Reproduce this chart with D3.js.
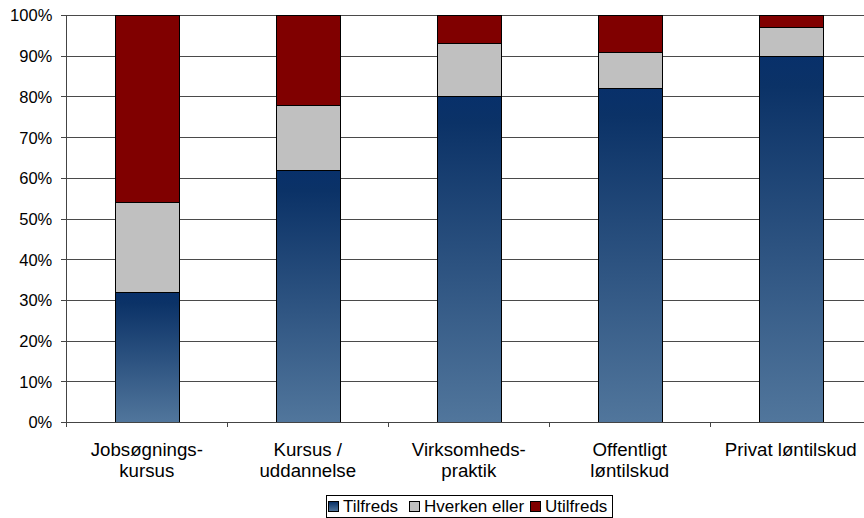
<!DOCTYPE html>
<html><head><meta charset="utf-8">
<script src="https://cdn.jsdelivr.net/npm/d3@7"></script>
<style>
html,body{margin:0;padding:0;background:#fff;}
svg{display:block;font-family:"Liberation Sans",Arial,sans-serif;}
</style></head>
<body><svg id="c" width="864" height="518"></svg>
<script>
const categories = ["Jobsøgnings-kursus","Kursus / uddannelse","Virksomheds-praktik","Offentligt løntilskud","Privat løntilskud"];
const categoryLines = [["Jobsøgnings-","kursus"],["Kursus /","uddannelse"],["Virksomheds-","praktik"],["Offentligt","løntilskud"],["Privat løntilskud"]];
const seriesNames = ["Tilfreds","Hverken eller","Utilfreds"];
const tilfreds = [32,62,80,82,90];
const hverken = [22,16,13,9,7];
const utilfreds = [46,22,7,9,3];
const yTicks = [0,10,20,30,40,50,60,70,80,90,100];

const svg = d3.select("#c");
const L=66.3, T=15, B=422, R=871.3;
const defs = svg.append("defs");
const grad = defs.append("linearGradient").attr("id","gBlue").attr("x1",0).attr("y1",0).attr("x2",0).attr("y2",1);
grad.append("stop").attr("offset","0%").attr("stop-color","#08306a");
grad.append("stop").attr("offset","8%").attr("stop-color","#0b3267");
grad.append("stop").attr("offset","100%").attr("stop-color","#51769c");

const x = d3.scaleBand().domain(categories).range([L,R]).paddingInner(0.6).paddingOuter(0.3);
const y = d3.scaleLinear().domain([0,100]).range([B,T]);

// gridlines
svg.append("g").attr("transform",`translate(${L},0)`)
  .call(d3.axisLeft(y).tickValues(yTicks).tickSize(-(R-L)).tickFormat(""))
  .call(g=>g.select(".domain").remove())
  .call(g=>g.selectAll("line").attr("stroke","#4a4a4a").attr("shape-rendering","crispEdges"));

// stacked data
const data = categories.map((c,i)=>({cat:c, Tilfreds:tilfreds[i], "Hverken eller":hverken[i], Utilfreds:utilfreds[i]}));
const stack = d3.stack().keys(seriesNames)(data);
const fills = {"Tilfreds":"url(#gBlue)","Hverken eller":"#c0c0c0","Utilfreds":"#800000"};
stack.forEach(layer=>{
  svg.append("g").selectAll("rect").data(layer).join("rect")
    .attr("x",d=>Math.round(x(d.data.cat))+0.5)
    .attr("y",d=>Math.round(y(d[1]))+0.5)
    .attr("width",Math.round(x.bandwidth()))
    .attr("height",d=>Math.round(y(d[0]))-Math.round(y(d[1])))
    .attr("fill",fills[layer.key])
    .attr("stroke","#000").attr("stroke-width",1);
});

// y axis
const ya = svg.append("g").attr("transform",`translate(${L},0)`)
  .call(d3.axisLeft(y).tickValues(yTicks).tickSize(5).tickPadding(9).tickFormat(d=>d+"%"));
ya.select(".domain").attr("stroke","#444").attr("shape-rendering","crispEdges");
ya.selectAll("line").attr("stroke","#444").attr("shape-rendering","crispEdges");
ya.selectAll("text").attr("font-size","16.5px").attr("fill","#000").attr("font-family","Liberation Sans, Arial, sans-serif").attr("dy","0.36em");

// x axis
const step = x.step();
const xa = svg.append("g").attr("transform",`translate(0,${B})`);
xa.append("line").attr("x1",L).attr("x2",R).attr("y1",0).attr("y2",0).attr("stroke","#444").attr("shape-rendering","crispEdges");
const boundaries = d3.range(categories.length+1).map(i=>L+i*step);
xa.selectAll("line.t").data(boundaries).join("line").attr("class","t")
  .attr("x1",d=>d).attr("x2",d=>d).attr("y1",0).attr("y2",5).attr("stroke","#444").attr("shape-rendering","crispEdges");
categories.forEach((c,i)=>{
  const t = xa.append("text").attr("text-anchor","middle").attr("font-size","18.7px").attr("fill","#000")
    .attr("x",x(c)+x.bandwidth()/2).attr("y",33.8);
  categoryLines[i].forEach((ln,j)=>{
    t.append("tspan").attr("x",x(c)+x.bandwidth()/2).attr("dy",j===0?0:21.5).text(ln);
  });
});

// legend
const lg = svg.append("g");
lg.append("rect").attr("x",326.5).attr("y",495.5).attr("width",286).attr("height",22).attr("fill","#fff").attr("stroke","#000");
const legX = [328, 409, 530];
seriesNames.forEach((s,i)=>{
  lg.append("rect").attr("x",legX[i]+0.5).attr("y",501.5).attr("width",10).attr("height",10)
    .attr("fill",fills[s]).attr("stroke","#000");
  lg.append("text").attr("x",legX[i]+15).attr("y",512).attr("font-size","17px").attr("fill","#000").text(s);
});
</script></body></html>
